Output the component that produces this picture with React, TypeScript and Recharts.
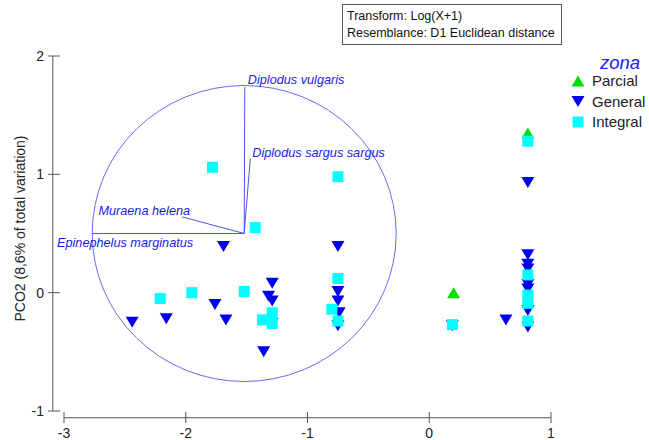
import { ScatterChart, Scatter, XAxis, YAxis, ReferenceLine, ReferenceDot, Legend } from 'recharts'

// axis ticks
const xTicks = [-3, -2, -1, 0, 1]
const yTicks = [-1, 0, 1, 2]

// PCO scores, by zona
const parcial = [
  { x: 0.81, y: -0.08 },
  { x: 0.2, y: 0.0 },
  { x: 0.81, y: 1.35 },
]

const general = [
  { x: -2.44, y: -0.25 },
  { x: -2.16, y: -0.22 },
  { x: -1.76, y: -0.1 },
  { x: -1.67, y: -0.23 },
  { x: -1.69, y: 0.39 },
  { x: -1.29, y: 0.08 },
  { x: -1.32, y: -0.03 },
  { x: -1.29, y: -0.07 },
  { x: -1.29, y: -0.26 },
  { x: -1.36, y: -0.5 },
  { x: -0.75, y: 0.39 },
  { x: -0.75, y: 0.01 },
  { x: -0.75, y: -0.07 },
  { x: -0.74, y: -0.17 },
  { x: -0.75, y: -0.28 },
  { x: 0.19, y: -0.28 },
  { x: 0.63, y: -0.23 },
  { x: 0.81, y: 0.93 },
  { x: 0.81, y: 0.32 },
  { x: 0.81, y: 0.24 },
  { x: 0.81, y: 0.2 },
  { x: 0.81, y: 0.07 },
  { x: 0.81, y: 0.03 },
  { x: 0.81, y: -0.15 },
  { x: 0.81, y: -0.29 },
]

const integral = [
  { x: -2.21, y: -0.05 },
  { x: -1.95, y: 0.0 },
  { x: -1.78, y: 1.06 },
  { x: -1.52, y: 0.01 },
  { x: -1.43, y: 0.55 },
  { x: -1.29, y: -0.17 },
  { x: -1.37, y: -0.23 },
  { x: -1.29, y: -0.26 },
  { x: -0.75, y: 0.98 },
  { x: -0.75, y: 0.12 },
  { x: -0.8, y: -0.14 },
  { x: -0.75, y: -0.24 },
  { x: 0.19, y: -0.27 },
  { x: 0.81, y: 1.28 },
  { x: 0.81, y: 0.15 },
  { x: 0.81, y: -0.02 },
  { x: 0.81, y: -0.09 },
  { x: 0.81, y: -0.24 },
]

// species vectors (Pearson correlation overlay)
const vectorNames = ['Diplodus vulgaris', 'Diplodus sargus sargus', 'Muraena helena', 'Epinephelus marginatus']
const vectorX = [-1.515, -1.47, -2.03, -2.77]
const vectorY = [1.74, 1.13, 0.64, 0.5]
const vectorOrigin = { x: -1.52, y: 0.5 }

const zonaNames = ['Parcial', 'General', 'Integral']

const FONT = '"Liberation Sans", Arial, sans-serif'
const AXIS = '#555'
const GREEN = '#00DD00'
const BLUE = '#0000EE'
const CYAN = '#00FFFF'
const VEC = '#5050EE'
const LABEL = '#1a1af0'

// label offsets (px) relative to each vector tip
const labelDx = [3, 2, 8, -35]
const labelDy = [-3, -2, -2, 13]
const labelAnchor = ['start', 'start', 'end', 'start']

const TriUp = ({ cx, cy, fill }: any) => (
  <polygon points={`${cx},${cy - 5.5} ${cx - 6.5},${cy + 5.5} ${cx + 6.5},${cy + 5.5}`} fill={fill} />
)
const TriDown = ({ cx, cy, fill }: any) => (
  <polygon points={`${cx - 6.5},${cy - 5.5} ${cx + 6.5},${cy - 5.5} ${cx},${cy + 5.5}`} fill={fill} />
)
const Square = ({ cx, cy, fill }: any) => (
  <rect x={cx - 5.5} y={cy - 5.5} width={11} height={11} fill={fill} />
)

const XTick = ({ x, y, payload }: any) => (
  <g>
    <line x1={x} x2={x} y1={y + 1} y2={y + 12} stroke={AXIS} />
    <text x={x} y={y + 27} textAnchor="middle" fontSize={14} fill="#222" fontFamily={FONT}>
      {payload.value}
    </text>
  </g>
)

const YTick = ({ x, y, payload }: any) => (
  <g>
    <line x1={x - 16} x2={x - 4} y1={y} y2={y} stroke={AXIS} />
    <text x={x - 20} y={y + 5} textAnchor="end" fontSize={14} fill="#222" fontFamily={FONT}>
      {payload.value}
    </text>
  </g>
)

const YLabel = ({ viewBox }: any) => {
  const cx = viewBox.x + 1
  const cy = viewBox.y + viewBox.height / 2 - 5
  return (
    <text
      x={cx}
      y={cy}
      transform={`rotate(-90, ${cx}, ${cy})`}
      textAnchor="middle"
      fontSize={14}
      fill="#222"
      fontFamily={FONT}
    >
      PCO2 (8,6% of total variation)
    </text>
  )
}

const LegendBox = () => {
  const shapes = [TriUp, TriDown, Square]
  const fills = [GREEN, BLUE, CYAN]
  return (
    <svg width={94} height={90} style={{ display: 'block' }}>
      <text x={45} y={23} fontSize={18.5} fontStyle="italic" fill="#2020ff" fontFamily={FONT}>
        zona
      </text>
      {zonaNames.map((name, i) => {
        const Shape = shapes[i]
        const cy = 35 + i * 20.5
        return (
          <g key={name}>
            <Shape cx={23} cy={cy} fill={fills[i]} />
            <text x={37} y={cy + 5} fontSize={15} fill="#222" fontFamily={FONT}>
              {name}
            </text>
          </g>
        )
      })}
    </svg>
  )
}

export default function App() {
  return (
    <div style={{ position: 'absolute', left: 0, top: 0, width: 649, height: 440, background: '#fff', fontFamily: FONT }}>
      <ScatterChart width={649} height={440} margin={{ top: 56, right: 98, bottom: 0, left: 24 }}>
        <XAxis
          type="number"
          dataKey="x"
          domain={[-3, 1]}
          ticks={xTicks}
          height={29}
          axisLine={false}
          tickLine={false}
          tickSize={0}
          tickMargin={0}
          tick={<XTick />}
          allowDataOverflow
        />
        <YAxis
          type="number"
          dataKey="y"
          domain={[-1, 2]}
          ticks={yTicks}
          width={40}
          axisLine={false}
          tickLine={false}
          tickSize={0}
          tickMargin={0}
          tick={<YTick />}
          label={<YLabel />}
          allowDataOverflow
        />
        {/* detached axis lines */}
        <ReferenceLine
          segment={[{ x: -3.092, y: -1 }, { x: -3.092, y: 2 }]}
          stroke={AXIS}
          ifOverflow="visible"
        />
        <ReferenceLine
          segment={[{ x: -3, y: -1.057 }, { x: 1, y: -1.057 }]}
          stroke={AXIS}
          ifOverflow="visible"
        />
        {/* correlation circle */}
        <ReferenceDot
          x={vectorOrigin.x}
          y={vectorOrigin.y}
          r={150}
          ifOverflow="visible"
          shape={(p: any) => <ellipse cx={p.cx} cy={p.cy} rx={152} ry={148} fill="none" stroke="#6a6af2" strokeWidth={1} />}
        />
        {vectorNames.map((name, i) => (
          <ReferenceLine
            key={name}
            segment={[vectorOrigin, { x: vectorX[i], y: vectorY[i] }]}
            stroke={VEC}
            strokeWidth={1}
            ifOverflow="visible"
          />
        ))}
        {vectorNames.map((name, i) => (
          <ReferenceDot
            key={'l' + name}
            x={vectorX[i]}
            y={vectorY[i]}
            r={0}
            ifOverflow="visible"
            shape={(p: any) => (
              <text
                x={p.cx + labelDx[i]}
                y={p.cy + labelDy[i]}
                textAnchor={labelAnchor[i] as any}
                fontSize={12.7}
                fontStyle="italic"
                fill={LABEL}
                fontFamily={FONT}
              >
                {name}
              </text>
            )}
          />
        ))}
        <Scatter name="Parcial" data={parcial} fill={GREEN} shape={<TriUp />} isAnimationActive={false} />
        <Scatter name="General" data={general} fill={BLUE} shape={<TriDown />} isAnimationActive={false} />
        <Scatter name="Integral" data={integral} fill={CYAN} shape={<Square />} isAnimationActive={false} />
        <Legend
          layout="vertical"
          align="center"
          verticalAlign="middle"
          wrapperStyle={{ left: 555, top: 46, width: 94, height: 90 }}
          content={() => <LegendBox />}
        />
      </ScatterChart>
      <div
        style={{
          position: 'absolute',
          left: 342,
          top: 4,
          width: 220,
          height: 41,
          boxSizing: 'border-box',
          border: '1px solid #555',
          fontSize: 12.5,
          lineHeight: '17px',
          padding: '3px 0 0 4px',
          color: '#111',
          fontFamily: FONT,
        }}
      >
        <div>Transform: Log(X+1)</div>
        <div>Resemblance: D1 Euclidean distance</div>
      </div>
    </div>
  )
}
